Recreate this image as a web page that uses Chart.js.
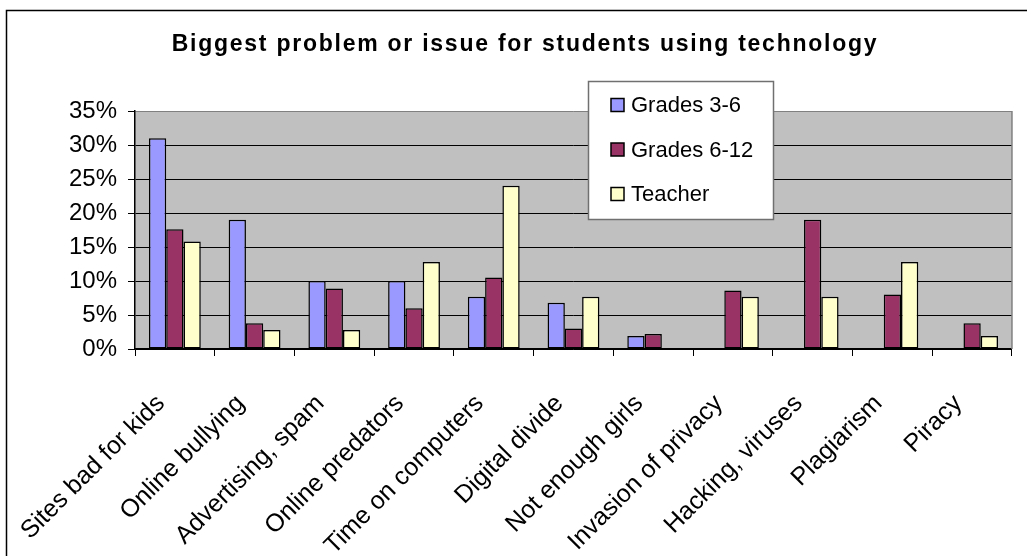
<!DOCTYPE html>
<html>
<head>
<meta charset="utf-8">
<script src="https://cdn.jsdelivr.net/npm/chart.js@4/dist/chart.umd.min.js"></script>
<style>
  html, body { margin: 0; padding: 0; background: #fff; }
  #wrap { width: 1027px; height: 556px; position: relative; }
</style>
</head>
<body>
<div id="wrap"><canvas id="c" width="1027" height="556"></canvas></div>
<script>
// Survey shares (%) by respondent group
const categories = [
  'Sites bad for kids', 'Online bullying', 'Advertising, spam', 'Online predators',
  'Time on computers', 'Digital divide', 'Not enough girls', 'Invasion of privacy',
  'Hacking, viruses', 'Plagiarism', 'Piracy'
];
const grades3to6  = [31.0, 19.0, 10.0, 10.0, 7.7, 6.8, 1.9, null, null, null, null];
const grades6to12 = [17.6, 3.8, 8.9, 6.0, 10.5, 3.0, 2.2, 8.6, 19.0, 8.0, 3.8];
const teacher     = [15.8, 2.8, 2.8, 12.8, 24.0, 7.7, null, 7.7, 7.7, 12.8, 1.9];
const seriesNames = ['Grades 3-6', 'Grades 6-12', 'Teacher'];
const yTickValues = [0, 5, 10, 15, 20, 25, 30, 35];
const titleText = 'Biggest problem or issue for students using technology';

const FONT = '"Liberation Sans", Arial, sans-serif';

// Frame, plot background and plot border
const backdrop = {
  id: 'backdrop',
  beforeDraw(chart) {
    const { ctx, chartArea: a } = chart;
    ctx.save();
    ctx.fillStyle = '#ffffff';
    ctx.fillRect(0, 0, chart.width, chart.height);
    ctx.strokeStyle = '#000';
    ctx.lineWidth = 1.5;
    ctx.beginPath();
    ctx.moveTo(6.5, chart.height + 2);
    ctx.lineTo(6.5, 10.5);
    ctx.lineTo(chart.width + 2, 10.5);
    ctx.stroke();
    ctx.fillStyle = '#C0C0C0';
    ctx.fillRect(a.left, a.top, a.right - a.left, a.bottom - a.top);
    ctx.restore();
  },
  beforeDatasetsDraw(chart) {
    const { ctx, chartArea: a } = chart;
    ctx.save();
    ctx.strokeStyle = '#808080';
    ctx.lineWidth = 1.5;
    ctx.beginPath();
    ctx.moveTo(a.right, a.top);
    ctx.lineTo(a.right, a.bottom);
    ctx.stroke();
    ctx.restore();
  }
};

// Spaced bold title
const titlePlugin = {
  id: 'spacedTitle',
  afterDraw(chart) {
    const { ctx } = chart;
    ctx.save();
    ctx.font = 'bold 23px ' + FONT;
    ctx.letterSpacing = '1.75px';
    ctx.fillStyle = '#000';
    ctx.textAlign = 'center';
    ctx.textBaseline = 'middle';
    ctx.fillText(titleText, 525, 45);
    ctx.restore();
  }
};

// Boxed legend inside the plot
const boxLegend = {
  id: 'boxLegend',
  afterDatasetsDraw(chart) {
    const { ctx } = chart;
    const x = 588, y = 81, w = 185, h = 138;
    ctx.save();
    ctx.fillStyle = '#fff';
    ctx.fillRect(x, y, w, h);
    ctx.strokeStyle = '#707070';
    ctx.lineWidth = 1.5;
    ctx.strokeRect(x + 0.5, y + 0.5, w, h);
    ctx.font = '22px ' + FONT;
    ctx.textBaseline = 'middle';
    chart.data.datasets.forEach((ds, i) => {
      const cy = 105 + i * 44.5;
      ctx.fillStyle = ds.backgroundColor;
      ctx.fillRect(611, cy - 6.5, 13, 13);
      ctx.strokeStyle = '#000';
      ctx.lineWidth = 1.5;
      ctx.strokeRect(611, cy - 6.5, 13, 13);
      ctx.fillStyle = '#000';
      ctx.fillText(ds.label, 631, cy + 1);
    });
    ctx.restore();
  }
};

new Chart(document.getElementById('c'), {
  type: 'bar',
  data: {
    labels: categories,
    datasets: [
      { label: seriesNames[0], data: grades3to6, backgroundColor: '#9999FF' },
      { label: seriesNames[1], data: grades6to12, backgroundColor: '#993366' },
      { label: seriesNames[2], data: teacher, backgroundColor: '#FFFFCC' }
    ]
  },
  options: {
    responsive: false,
    animation: false,
    devicePixelRatio: 1,
    layout: { padding: { left: 0, right: 15, top: 111, bottom: 0 } },
    datasets: {
      bar: {
        borderColor: '#000',
        borderWidth: 1.5,
        borderSkipped: false,
        categoryPercentage: 0.65,
        barPercentage: 1.0
      }
    },
    plugins: {
      legend: { display: false },
      title: { display: false },
      tooltip: { enabled: false }
    },
    scales: {
      x: {
        afterFit(scale) { scale.height = 207; },
        grid: {
          offset: true,
          drawOnChartArea: false,
          drawTicks: true,
          tickLength: 7,
          tickColor: '#000',
          lineWidth: 1
        },
        border: { color: '#000', width: 1.5 },
        ticks: {
          autoSkip: false,
          minRotation: 45,
          maxRotation: 45,
          color: '#000',
          padding: 33,
          labelOffset: -14,
          font: { family: FONT, size: 25 }
        }
      },
      y: {
        min: 0,
        max: 35,
        afterFit(scale) { scale.width = 135; },
        afterBuildTicks(scale) { scale.ticks = yTickValues.map(v => ({ value: v })); },
        grid: {
          color: ctx => (ctx.tick && ctx.tick.value === 35 ? '#808080' : '#000'),
          lineWidth: 1,
          drawTicks: true,
          tickLength: 7,
          tickColor: '#000'
        },
        border: { color: '#000', width: 1.5 },
        ticks: {
          color: '#000',
          padding: 11,
          font: { family: FONT, size: 24 },
          callback: v => v + '%'
        }
      }
    }
  },
  plugins: [backdrop, titlePlugin, boxLegend]
});
</script>
</body>
</html>
